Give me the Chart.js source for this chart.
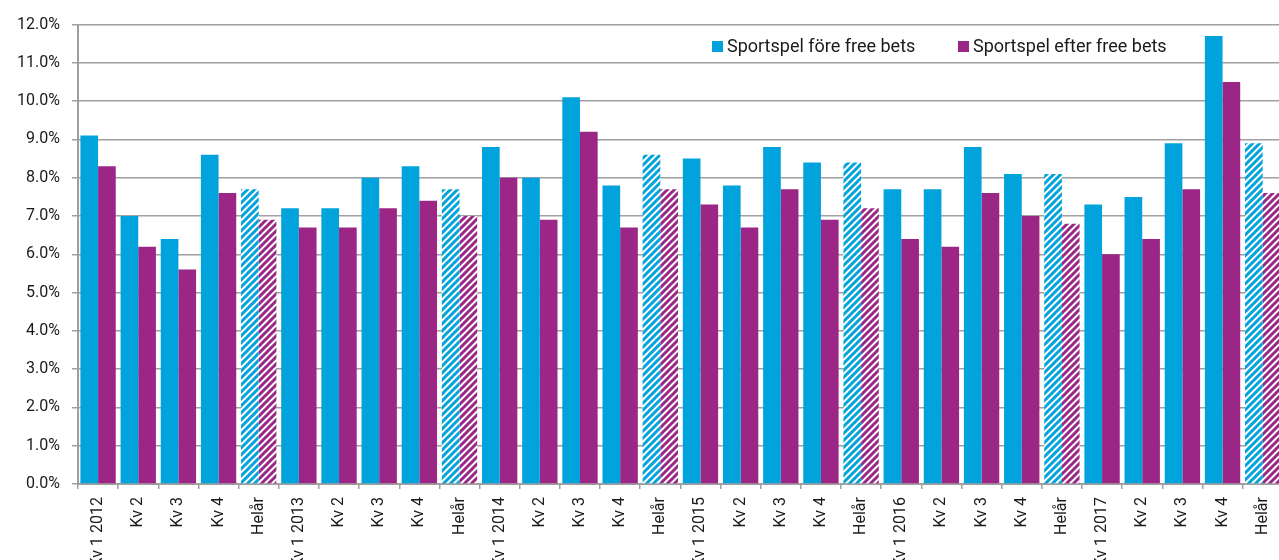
<!DOCTYPE html>
<html>
<head>
<meta charset="utf-8">
<script src="https://cdn.jsdelivr.net/npm/chart.js@4.4.1/dist/chart.umd.min.js"></script>
<style>
  html, body { margin: 0; padding: 0; background: #fff; overflow: hidden; }
  #wrap { width: 1279px; height: 560px; overflow: hidden; position: relative; }
  canvas { position: absolute; left: 0; top: 3px; }
</style>
</head>
<body>
<div id="wrap"><canvas id="chart" width="1290" height="580"></canvas></div>
<script>
// categories: 6 years x (4 quarters + full year)
const years = ["2012", "2013", "2014", "2015", "2016", "2017"];
const periods = ["Kv 1", "Kv 2", "Kv 3", "Kv 4", "Helår"];
const labels = [];
years.forEach((y) => {
  periods.forEach((p, i) => labels.push(i === 0 ? p + " " + y : p));
});

// percent values
const beforeFreeBets = [
  9.1, 7.0, 6.4, 8.6, 7.7,
  7.2, 7.2, 8.0, 8.3, 7.7,
  8.8, 8.0, 10.1, 7.8, 8.6,
  8.5, 7.8, 8.8, 8.4, 8.4,
  7.7, 7.7, 8.8, 8.1, 8.1,
  7.3, 7.5, 8.9, 11.7, 8.9,
];
const afterFreeBets = [
  8.3, 6.2, 5.6, 7.6, 6.9,
  6.7, 6.7, 7.2, 7.4, 7.0,
  8.0, 6.9, 9.2, 6.7, 7.7,
  7.3, 6.7, 7.7, 6.9, 7.2,
  6.4, 6.2, 7.6, 7.0, 6.8,
  6.0, 6.4, 7.7, 10.5, 7.6,
];
const seriesNames = ["Sportspel före free bets", "Sportspel efter free bets"];

const BLUE = "#00a3db";
const PURPLE = "#9b2685";
const FONT = "Roboto, 'Noto Sans', sans-serif";

// diagonal stripes for the full-year bars
function stripes(color) {
  const s = 7;
  const c = document.createElement("canvas");
  c.width = s;
  c.height = s;
  const g = c.getContext("2d");
  g.fillStyle = "#fff";
  g.fillRect(0, 0, s, s);
  g.strokeStyle = color;
  g.lineWidth = 3;
  g.beginPath();
  g.moveTo(-1, s + 1);
  g.lineTo(s + 1, -1);
  g.moveTo(-2, 2);
  g.lineTo(2, -2);
  g.moveTo(s - 2, s + 2);
  g.lineTo(s + 2, s - 2);
  g.stroke();
  return g.createPattern(c, "repeat");
}

const ctx = document.getElementById("chart").getContext("2d");
const blueHatch = stripes(BLUE);
const purpleHatch = stripes(PURPLE);
const fills = (solid, hatch) => labels.map((l, i) => (i % 5 === 4 ? hatch : solid));

// legend drawn inside the plot, top right
const innerLegend = {
  id: "innerLegend",
  afterDraw(chart) {
    const c = chart.ctx;
    const items = [
      { x: 712, color: BLUE, text: seriesNames[0] },
      { x: 958, color: PURPLE, text: seriesNames[1] },
    ];
    c.save();
    c.font = "18px " + FONT;
    c.textBaseline = "middle";
    items.forEach((it) => {
      c.fillStyle = it.color;
      c.fillRect(it.x, 38, 11, 11);
      c.fillStyle = "#1a1a1a";
      c.fillText(it.text, it.x + 15, 44);
    });
    c.restore();
  },
};

new Chart(ctx, {
  type: "bar",
  data: {
    labels,
    datasets: [
      {
        label: seriesNames[0],
        data: beforeFreeBets,
        backgroundColor: fills(BLUE, blueHatch),
      },
      {
        label: seriesNames[1],
        data: afterFreeBets,
        backgroundColor: fills(PURPLE, purpleHatch),
      },
    ],
  },
  options: {
    responsive: false,
    animation: false,
    devicePixelRatio: 1,
    layout: { padding: { left: 10, right: 6, top: 15, bottom: 0 } },
    datasets: { bar: { categoryPercentage: 0.88, barPercentage: 1.0 } },
    plugins: { legend: { display: false }, tooltip: { enabled: false } },
    scales: {
      x: {
        grid: {
          drawOnChartArea: false,
          drawTicks: true,
          tickLength: 5,
          color: "#a0a0a0",
          lineWidth: 1.5,
        },
        border: { color: "#a0a0a0", width: 2 },
        ticks: {
          autoSkip: false,
          maxRotation: 90,
          minRotation: 90,
          padding: 8,
          color: "#1a1a1a",
          font: { family: FONT, size: 16 },
        },
        afterFit(scale) {
          scale.height = 99;
        },
      },
      y: {
        min: 0,
        max: 12,
        ticks: {
          stepSize: 1,
          padding: 12,
          color: "#1a1a1a",
          font: { family: FONT, size: 16 },
          callback: (v) => v.toFixed(1) + "%",
        },
        grid: { color: "#a0a0a0", lineWidth: 1.5, tickLength: 6 },
        border: { color: "#a0a0a0", width: 2 },
        afterFit(scale) {
          scale.width = 68;
        },
      },
    },
  },
  plugins: [innerLegend],
});
</script>
</body>
</html>
